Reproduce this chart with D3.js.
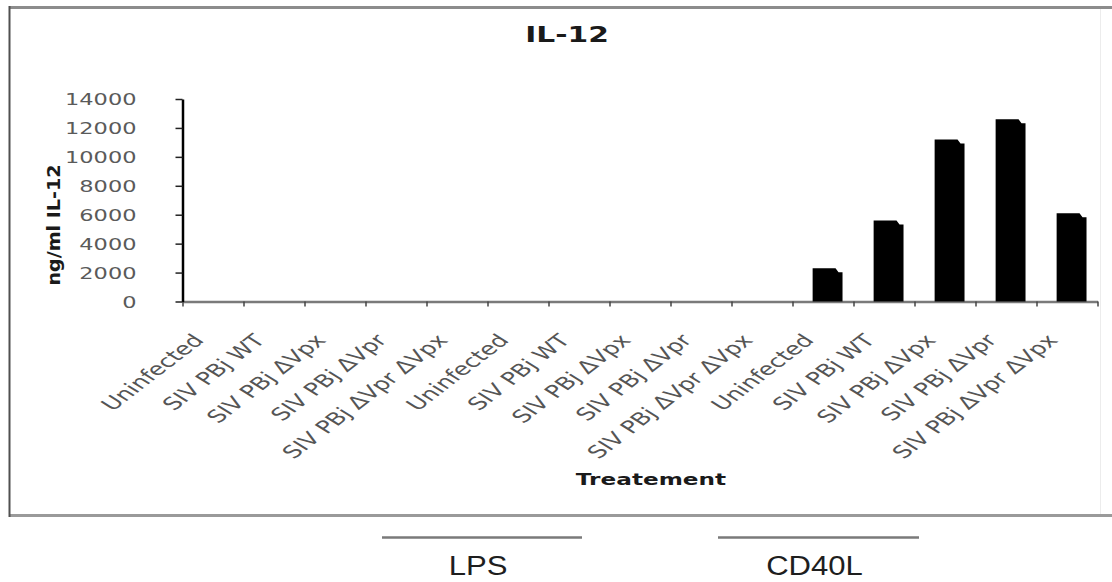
<!DOCTYPE html>
<html>
<head>
<meta charset="utf-8">
<script src="https://cdn.jsdelivr.net/npm/d3@7"></script>
<style>
  html, body { margin: 0; padding: 0; background: #fff; }
  svg { display: block; }
</style>
</head>
<body>
<svg id="chart" width="1112" height="582"></svg>
<script>
// IL-12 secretion per treatment (three stimulation blocks of five infections)
const categoryLabels = [
  "Uninfected", "SIV PBj WT", "SIV PBj ΔVpx", "SIV PBj ΔVpr", "SIV PBj ΔVpr ΔVpx",
  "Uninfected", "SIV PBj WT", "SIV PBj ΔVpx", "SIV PBj ΔVpr", "SIV PBj ΔVpr ΔVpx",
  "Uninfected", "SIV PBj WT", "SIV PBj ΔVpx", "SIV PBj ΔVpr", "SIV PBj ΔVpr ΔVpx"
];
const il12Values = [0, 0, 0, 0, 0, 0, 0, 0, 0, 0, 2300, 5600, 11200, 12600, 6100];
const yTickValues = [0, 2000, 4000, 6000, 8000, 10000, 12000, 14000];
const groupNames = ["LPS", "CD40L"];
const chartTitle = "IL-12";
const yAxisTitle = "ng/ml IL-12";
const xAxisTitle = "Treatement";

// the embedded chart is drawn horizontally widened
const SX = 1.45;
const FONT = "'DejaVu Sans', Verdana, sans-serif";

const svg = d3.select("#chart");

// outer frame of the chart area
const frame = svg.append("g");
frame.append("line").attr("x1", 9).attr("x2", 1112).attr("y1", 7.5).attr("y2", 7.5)
  .attr("stroke", "#8c8c8c").attr("stroke-width", 3);
frame.append("line").attr("x1", 9).attr("x2", 1112).attr("y1", 515.5).attr("y2", 515.5)
  .attr("stroke", "#9a9a9a").attr("stroke-width", 3);
frame.append("line").attr("x1", 9.5).attr("x2", 9.5).attr("y1", 6).attr("y2", 517)
  .attr("stroke", "#505050").attr("stroke-width", 2);
frame.append("line").attr("x1", 1100.5).attr("x2", 1100.5).attr("y1", 9).attr("y2", 514)
  .attr("stroke", "#ececec").attr("stroke-width", 1);

// scales
const x = d3.scaleBand().domain(d3.range(categoryLabels.length)).range([182.5, 1097.5]).padding(0);
const xEdge = d3.scaleLinear().domain([0, categoryLabels.length]).range([182.5, 1097.5]);
const y = d3.scaleLinear().domain([0, 14000]).range([301.5, 99]);

// x axis: line plus ticks between categories
const xAxisG = svg.append("g").attr("transform", `translate(0,${y(0)})`)
  .call(d3.axisBottom(xEdge).tickValues(d3.range(categoryLabels.length + 1))
    .tickSize(5).tickSizeOuter(0).tickFormat(""));
xAxisG.select(".domain").attr("stroke", "#7a7a7a").attr("stroke-width", 2.5);
xAxisG.selectAll(".tick line").attr("stroke", "#444").attr("stroke-width", 1.5);

// bars with a small bevel on the right shoulder
const step = x.step();
svg.append("g").selectAll("path.bar")
  .data(il12Values)
  .join("path")
  .attr("class", "bar")
  .attr("fill", "#000")
  .attr("d", (v, i) => {
    const x0 = x(i) + step * 0.33;
    const x1 = x0 + step * 0.49;
    const yt = y(v), yb = y(0);
    const drop = Math.min(4, yb - yt);
    return `M${x0},${yb}V${yt}H${x1 - 7}L${x1 - 4},${yt + drop}H${x1}V${yb}Z`;
  });

// y axis
const yAxisG = svg.append("g").attr("transform", "translate(182.5,0)")
  .call(d3.axisLeft(y).tickValues(yTickValues).tickSize(7).tickSizeOuter(0).tickFormat(d3.format("d")));
yAxisG.select(".domain").attr("stroke", "#000").attr("stroke-width", 2.5);
yAxisG.selectAll(".tick line").attr("stroke", "#222").attr("stroke-width", 1.5);
yAxisG.selectAll(".tick text")
  .attr("x", null).attr("dy", "0.36em")
  .attr("transform", `translate(-46,0) scale(${SX},1)`)
  .attr("text-anchor", "end")
  .attr("fill", "#5a5a5a")
  .style("font-family", FONT)
  .style("font-size", "15.5px");

// rotated category labels
svg.append("g").selectAll("g.lab")
  .data(categoryLabels)
  .join("g")
  .attr("class", "lab")
  .attr("transform", (d, i) => `translate(${x(i) + x.bandwidth() / 2 - 8},341)`)
  .append("text")
  .attr("transform", `scale(${SX},1) rotate(-48)`)
  .attr("text-anchor", "end")
  .attr("fill", "#555")
  .style("font-family", FONT)
  .style("font-size", "17.5px")
  .text(d => d);

// titles
svg.append("text")
  .attr("transform", `translate(567,41.5) scale(${SX},1)`)
  .attr("text-anchor", "middle")
  .attr("fill", "#1a1a1a")
  .style("font-family", FONT).style("font-weight", "bold").style("font-size", "20.5px")
  .text(chartTitle);

svg.append("text")
  .attr("transform", `translate(651,485) scale(${SX},1)`)
  .attr("text-anchor", "middle")
  .attr("fill", "#1a1a1a")
  .style("font-family", FONT).style("font-weight", "bold").style("font-size", "16px")
  .text(xAxisTitle);

svg.append("text")
  .attr("transform", `translate(59.5,225) scale(${SX},1) rotate(-90)`)
  .attr("text-anchor", "middle")
  .attr("textLength", 121)
  .attr("lengthAdjust", "spacingAndGlyphs")
  .attr("fill", "#1a1a1a")
  .style("font-family", FONT).style("font-weight", "bold").style("font-size", "12.5px")
  .text(yAxisTitle);

// stimulation group annotations below the chart
const groupSpans = [[382, 582], [718, 919]];
const groups = svg.append("g").selectAll("g.grp")
  .data(groupNames)
  .join("g")
  .attr("class", "grp");
groups.append("line")
  .attr("x1", (d, i) => groupSpans[i][0]).attr("x2", (d, i) => groupSpans[i][1])
  .attr("y1", 537.5).attr("y2", 537.5)
  .attr("stroke", "#7a7a7a").attr("stroke-width", 2.5);
groups.append("text")
  .attr("transform", (d, i) => `translate(${(groupSpans[i][0] + groupSpans[i][1]) / 2 - 4},574.5) scale(1.11,1)`)
  .attr("text-anchor", "middle")
  .attr("fill", "#1e1e1e")
  .style("font-family", "'Liberation Sans', Arial, sans-serif")
  .style("font-size", "28px")
  .text(d => d);
</script>
</body>
</html>
